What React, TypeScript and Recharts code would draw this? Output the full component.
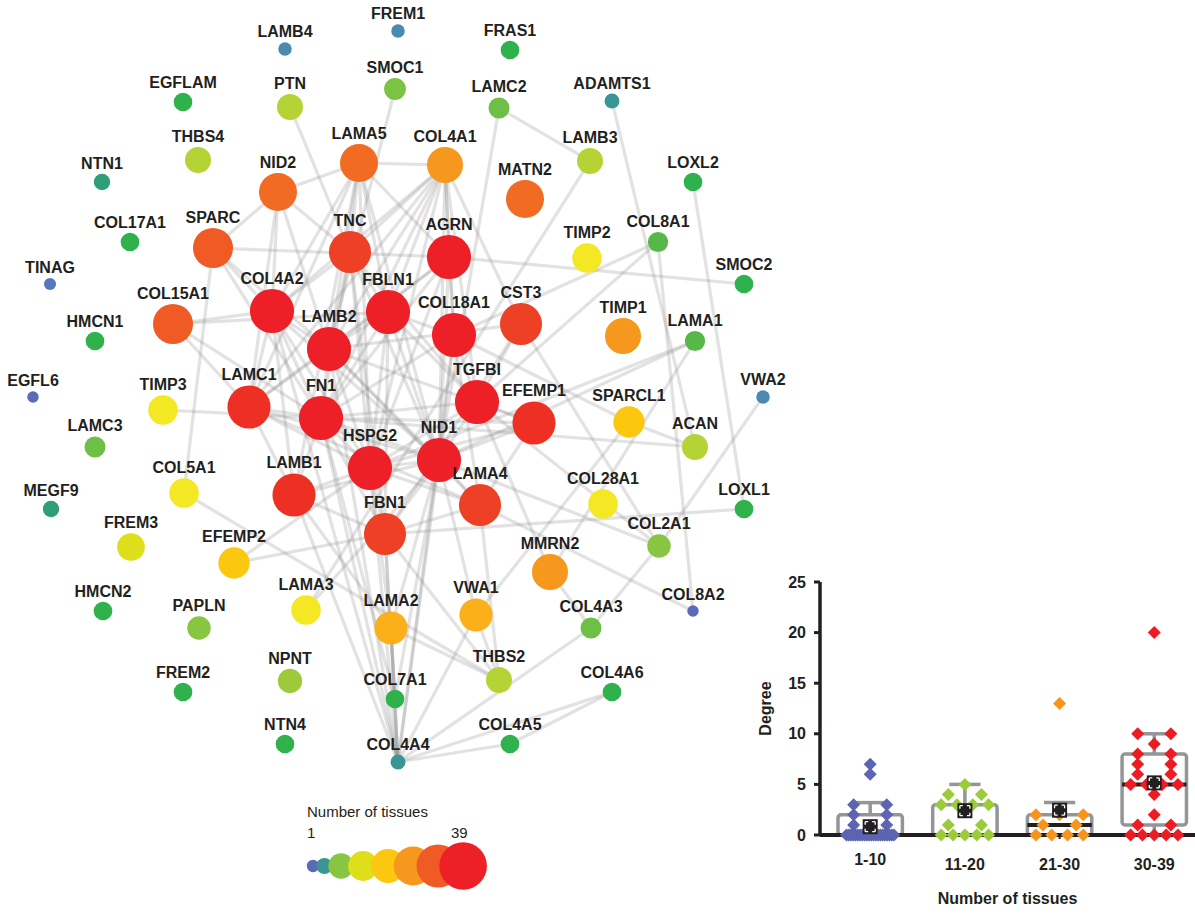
import React from 'react';
import { ScatterChart, Scatter, XAxis, YAxis, ReferenceLine, ReferenceArea } from 'recharts';

const FONT = '"Liberation Sans", Arial, Helvetica, sans-serif';
const INK = '#231f20';

// gene, layout x, layout y, number of tissues
const GENES: [string, number, number, number][] = [
  ['LAMB4', 285, 49, 4], ['FREM1', 398, 31, 4], ['FRAS1', 510, 50, 11], ['EGFLAM', 183, 102, 11],
  ['PTN', 290, 107, 20], ['SMOC1', 395, 89, 15], ['LAMC2', 499, 108, 14], ['ADAMTS1', 612, 101, 6],
  ['THBS4', 198, 160, 20], ['LAMA5', 359, 163, 33], ['COL4A1', 445, 165, 31], ['NID2', 278, 192, 33],
  ['MATN2', 525, 199, 33], ['LAMB3', 590, 161, 20], ['LOXL2', 693, 182, 11], ['NTN1', 102, 182, 8],
  ['COL17A1', 130, 242, 11], ['SPARC', 213, 248, 35], ['TNC', 350, 252, 37], ['AGRN', 449, 257, 39],
  ['TIMP2', 587, 258, 24], ['COL8A1', 658, 242, 13], ['SMOC2', 744, 284, 11], ['TINAG', 50, 284, 2],
  ['COL4A2', 272, 311, 39], ['FBLN1', 388, 312, 39], ['COL15A1', 173, 324, 35], ['COL18A1', 454, 335, 39],
  ['CST3', 521, 324, 37], ['TIMP1', 623, 336, 31], ['LAMB2', 329, 349, 39], ['HMCN1', 95, 341, 11],
  ['LAMA1', 695, 341, 13], ['EGFL6', 33, 397, 1], ['TIMP3', 163, 410, 24], ['LAMC1', 249, 407, 38],
  ['FN1', 321, 418, 39], ['TGFBI', 477, 402, 39], ['EFEMP1', 534, 423, 38], ['SPARCL1', 629, 422, 26],
  ['VWA2', 763, 397, 4], ['ACAN', 695, 447, 20], ['LAMC3', 95, 447, 14], ['HSPG2', 370, 468, 39],
  ['NID1', 439, 460, 39], ['COL5A1', 184, 493, 24], ['LAMB1', 294, 495, 38], ['LAMA4', 480, 505, 37],
  ['COL28A1', 603, 504, 24], ['LOXL1', 744, 509, 11], ['MEGF9', 51, 509, 8], ['FBN1', 385, 534, 37],
  ['FREM3', 131, 547, 22], ['EFEMP2', 234, 563, 26], ['COL2A1', 659, 546, 17], ['MMRN2', 550, 572, 31],
  ['HMCN2', 103, 611, 11], ['COL8A2', 693, 611, 1], ['PAPLN', 199, 628, 17], ['LAMA3', 306, 610, 24],
  ['LAMA2', 391, 628, 28], ['VWA1', 476, 615, 28], ['COL4A3', 591, 628, 14], ['THBS2', 499, 680, 20],
  ['NPNT', 290, 681, 18], ['FREM2', 183, 692, 11], ['COL7A1', 395, 699, 11], ['COL4A6', 612, 692, 11],
  ['NTN4', 285, 744, 11], ['COL4A5', 510, 744, 11], ['COL4A4', 398, 762, 6],
];

const EDGES: [string, string][] = [
  ['PTN', 'TNC'], ['SMOC1', 'LAMB2'], ['LAMC2', 'LAMB3'], ['LAMC2', 'NID1'], ['LAMB3', 'LAMA3'],
  ['ADAMTS1', 'ACAN'], ['LOXL2', 'LOXL1'], ['COL8A1', 'COL8A2'], ['COL8A1', 'COL18A1'], ['COL8A1', 'TGFBI'],
  ['AGRN', 'SMOC2'], ['SPARC', 'AGRN'], ['SPARC', 'COL5A1'], ['TIMP3', 'FN1'], ['COL5A1', 'THBS2'],
  ['EFEMP2', 'FBN1'], ['EFEMP2', 'HSPG2'], ['FBN1', 'LOXL1'], ['LAMA3', 'NID1'],
  ['VWA2', 'COL2A1'], ['TGFBI', 'COL2A1'], ['NID1', 'COL2A1'], ['CST3', 'COL2A1'], ['COL2A1', 'COL4A3'],
  ['SPARCL1', 'ACAN'], ['SPARCL1', 'VWA1'], ['SPARCL1', 'COL18A1'], ['ACAN', 'FN1'],
  ['LAMA1', 'HSPG2'], ['LAMA1', 'NID1'], ['LAMA1', 'MMRN2'],
  ['MMRN2', 'COL4A3'], ['MMRN2', 'TGFBI'], ['LAMA4', 'COL8A2'], ['LAMA4', 'THBS2'], ['FBN1', 'THBS2'],
  ['VWA1', 'THBS2'], ['LAMA2', 'THBS2'],
  ['COL4A4', 'COL4A3'], ['COL4A4', 'COL4A5'], ['COL4A4', 'COL4A6'], ['COL4A5', 'COL4A6'], ['COL4A4', 'COL7A1'],
  ['COL4A4', 'COL4A2'], ['COL4A4', 'FN1'], ['COL4A4', 'HSPG2'], ['COL4A4', 'NID1'], ['COL4A4', 'FBN1'],
  ['COL4A4', 'COL18A1'], ['COL4A4', 'LAMB2'], ['COL4A4', 'LAMA2'], ['COL4A4', 'VWA1'], ['COL4A4', 'LAMB1'],
  ['COL7A1', 'FBN1'], ['COL7A1', 'NID1'], ['COL7A1', 'LAMA2'], ['COL7A1', 'FN1'],
  ['LAMA5', 'COL4A1'], ['LAMA5', 'NID2'], ['LAMA5', 'TNC'], ['LAMA5', 'LAMB2'], ['LAMA5', 'LAMC1'],
  ['LAMA5', 'NID1'], ['LAMA5', 'AGRN'], ['LAMA5', 'HSPG2'], ['LAMA5', 'LAMB1'], ['LAMA5', 'FBLN1'],
  ['LAMA5', 'COL4A2'],
  ['COL4A1', 'COL4A2'], ['COL4A1', 'NID1'], ['COL4A1', 'HSPG2'], ['COL4A1', 'FN1'], ['COL4A1', 'LAMB2'],
  ['COL4A1', 'TNC'], ['COL4A1', 'COL18A1'], ['COL4A1', 'CST3'], ['COL4A1', 'AGRN'], ['COL4A1', 'FBLN1'],
  ['COL4A1', 'LAMC1'], ['COL4A1', 'TGFBI'],
  ['NID2', 'TNC'], ['NID2', 'COL4A2'], ['NID2', 'LAMB2'], ['NID2', 'LAMC1'], ['NID2', 'SPARC'],
  ['TNC', 'FBLN1'], ['TNC', 'FN1'], ['TNC', 'COL4A2'], ['TNC', 'LAMB2'], ['TNC', 'HSPG2'], ['TNC', 'FBN1'],
  ['TNC', 'NID1'], ['TNC', 'TGFBI'],
  ['AGRN', 'LAMB2'], ['AGRN', 'LAMC1'], ['AGRN', 'NID1'], ['AGRN', 'FN1'], ['AGRN', 'HSPG2'], ['AGRN', 'COL18A1'],
  ['SPARC', 'COL4A2'], ['SPARC', 'LAMB2'], ['SPARC', 'FN1'],
  ['COL15A1', 'COL4A2'], ['COL15A1', 'LAMC1'], ['COL15A1', 'FN1'], ['COL15A1', 'FBLN1'],
  ['COL4A2', 'LAMB2'], ['COL4A2', 'FN1'], ['COL4A2', 'LAMC1'], ['COL4A2', 'LAMB1'], ['COL4A2', 'HSPG2'],
  ['COL4A2', 'NID1'],
  ['FBLN1', 'FN1'], ['FBLN1', 'LAMB2'], ['FBLN1', 'COL18A1'], ['FBLN1', 'FBN1'], ['FBLN1', 'NID1'],
  ['FBLN1', 'HSPG2'], ['FBLN1', 'TGFBI'],
  ['COL18A1', 'NID1'], ['COL18A1', 'TGFBI'], ['COL18A1', 'LAMA4'], ['COL18A1', 'FN1'],
  ['CST3', 'TGFBI'], ['CST3', 'LAMB2'], ['CST3', 'FBN1'],
  ['LAMB2', 'LAMC1'], ['LAMB2', 'FN1'], ['LAMB2', 'NID1'], ['LAMB2', 'HSPG2'], ['LAMB2', 'LAMA4'],
  ['LAMB2', 'EFEMP1'],
  ['LAMC1', 'FN1'], ['LAMC1', 'LAMB1'], ['LAMC1', 'NID1'], ['LAMC1', 'HSPG2'], ['LAMC1', 'LAMA4'],
  ['FN1', 'HSPG2'], ['FN1', 'NID1'], ['FN1', 'LAMB1'], ['FN1', 'FBN1'], ['FN1', 'TGFBI'], ['FN1', 'EFEMP1'],
  ['TGFBI', 'NID1'], ['TGFBI', 'EFEMP1'], ['TGFBI', 'HSPG2'],
  ['EFEMP1', 'NID1'], ['EFEMP1', 'HSPG2'], ['EFEMP1', 'LAMA4'],
  ['HSPG2', 'NID1'], ['HSPG2', 'LAMB1'], ['HSPG2', 'FBN1'], ['HSPG2', 'LAMA4'], ['HSPG2', 'LAMA2'],
  ['NID1', 'LAMB1'], ['NID1', 'LAMA4'], ['NID1', 'FBN1'], ['NID1', 'LAMA2'], ['NID1', 'VWA1'],
  ['LAMB1', 'LAMA2'], ['LAMB1', 'FBN1'], ['LAMA4', 'FBN1'],
];

const LEGEND_TISSUES = [1, 6, 17, 22, 26, 31, 35, 39];

// degree of each gene, grouped by number of tissues
const GROUPS = ['1-10', '11-20', '21-30', '30-39'];
const DEGREE_1_10 = [7, 6, 3, 3, 2, 2, 1, 1, 0, 0, 0, 0, 0, 0, 0, 0, 0, 0, 0, 0, 0, 0, 0, 0, 0, 0, 0, 0, 0, 0];
const DEGREE_11_20 = [5, 4, 4, 3, 3, 3, 3, 1, 1, 0, 0, 0, 0, 0];
const DEGREE_21_30 = [13, 2, 2, 2, 1, 1, 0, 0, 0, 0];
const DEGREE_30_39 = [20, 10, 10, 9, 8, 8, 7, 7, 6, 6, 5, 5, 5, 5, 4, 2, 1, 1, 0, 0, 0, 0, 0];
const BOX_Q1 = [0, 0, 0, 1];
const BOX_Q3 = [2, 3, 2, 8];
const MEDIAN = [0, 0, 1, 5];
const WHISKER_LOW = [0, 0, 0, 0];
const WHISKER_HIGH = [3.2, 5, 3.2, 10];
const MEAN = [0.82, 2.4, 2.45, 5.15];

const GROUP_COLORS = ['#5d64b0', '#9bcb3b', '#f7941d', '#ec1c24'];
const BOX_GREY = '#939598';

const COLOR_STOPS: [number, string][] = [
  [1, '#5b6ab8'], [2, '#5577c2'], [4, '#4a8ab0'], [6, '#3a9595'], [8, '#2e9e78'], [11, '#2fb14b'],
  [13, '#55b848'], [14, '#6dbf45'], [15, '#7cc243'], [17, '#88c540'], [18, '#9ec93b'], [20, '#b5d334'],
  [22, '#dede1a'], [24, '#f4e724'], [26, '#fcc70f'], [28, '#fbb01b'], [31, '#f7981e'], [33, '#f26b22'],
  [35, '#f05a24'], [37, '#ee4024'], [38, '#ee3024'], [39, '#ee2027'],
];

function hexRgb(h: string) {
  return [1, 3, 5].map((i) => parseInt(h.slice(i, i + 2), 16));
}

function tissueColor(t: number) {
  for (let i = 1; i < COLOR_STOPS.length; i++) {
    const [t0, c0] = COLOR_STOPS[i - 1];
    const [t1, c1] = COLOR_STOPS[i];
    if (t <= t1) {
      const f = Math.max(0, (t - t0) / (t1 - t0));
      const a = hexRgb(c0);
      const b = hexRgb(c1);
      return `rgb(${a.map((v, k) => Math.round(v + (b[k] - v) * f)).join(',')})`;
    }
  }
  return COLOR_STOPS[COLOR_STOPS.length - 1][1];
}

const tissueRadius = (t: number) => 5.4 + 0.33 * t + 0.0025 * t * t;
const legendRadius = (t: number) => tissueRadius(t) * 1.08;

const nodeData = GENES.map(([name, x, y, tissues]) => ({ name, x, y, tissues }));
const nodePos: Record<string, { x: number; y: number }> = {};
nodeData.forEach((n) => (nodePos[n.name] = { x: n.x, y: n.y }));

const legendData = (() => {
  let x = 313;
  return LEGEND_TISSUES.map((t, i) => {
    if (i > 0) x += Math.min(25, 0.8 * (legendRadius(LEGEND_TISSUES[i - 1]) + legendRadius(t)));
    return { x, y: 866, tissues: t };
  });
})();

// spread equal values sideways so they don't sit on each other
function spread(values: number[]) {
  const counts: Record<number, number> = {};
  values.forEach((v) => (counts[v] = (counts[v] || 0) + 1));
  const seen: Record<number, number> = {};
  return values.map((v) => {
    const k = counts[v];
    const i = (seen[v] = (seen[v] ?? -1) + 1);
    if (k === 1) return 0;
    const span = Math.min(0.5, 0.35 * (k - 1));
    return -span / 2 + (span * i) / (k - 1);
  });
}

const groupPoints = [DEGREE_1_10, DEGREE_11_20, DEGREE_21_30, DEGREE_30_39].map((vals, g) => {
  const off = spread(vals);
  return vals.map((v, i) => ({ x: g + 1 + off[i], y: v }));
});
const meanData = MEAN.map((m, i) => ({ x: i + 1, y: m }));

const GeneCircle = (props: any) => {
  const { cx, cy, payload } = props;
  return <circle cx={cx} cy={cy} r={tissueRadius(payload.tissues)} fill={tissueColor(payload.tissues)} />;
};

const GeneLabel = (props: any) => {
  const { cx, cy, payload } = props;
  const r = tissueRadius(payload.tissues);
  return (
    <text x={cx} y={cy - r - 5} textAnchor="middle" fontFamily={FONT} fontSize={16} fontWeight="bold" fill={INK}>
      {payload.name}
    </text>
  );
};

const LegendKey = (props: any) => {
  const { cx, cy, payload } = props;
  return <circle cx={cx} cy={cy} r={legendRadius(payload.tissues)} fill={tissueColor(payload.tissues)} />;
};

const Diamond = (color: string) => (props: any) => {
  const { cx, cy } = props;
  const d = 6.5;
  return <polygon points={`${cx},${cy - d} ${cx + d},${cy} ${cx},${cy + d} ${cx - d},${cy}`} fill={color} />;
};

const MeanMark = (props: any) => {
  const { cx, cy } = props;
  return (
    <g>
      <rect x={cx - 7.5} y={cy - 7.5} width={15} height={15} fill={INK} />
      <rect x={cx - 5} y={cy - 5} width={10} height={10} fill="none" stroke="#fff" strokeWidth={1.3} strokeDasharray="3 4 3 0" />
      <polygon points={`${cx},${cy - 4.5} ${cx + 4.5},${cy} ${cx},${cy + 4.5} ${cx - 4.5},${cy}`} fill={INK} />
    </g>
  );
};

const GroupTick = (props: any) => {
  const { x, y, payload, index } = props;
  return (
    <text x={x} y={y} dy={index === 0 ? 24 : 29} textAnchor="middle" fontFamily={FONT} fontSize={16} fontWeight="bold" fill={INK}>
      {GROUPS[payload.value - 1]}
    </text>
  );
};

const DegreeLabel = (props: any) => {
  const vb = props.viewBox || { x: 20, y: 22, width: 50, height: 253 };
  const x = vb.x - 5;
  const y = vb.y + vb.height / 2;
  return (
    <text x={x} y={y} transform={`rotate(-90 ${x} ${y})`} textAnchor="middle" dominantBaseline="central" fontFamily={FONT} fontSize={16} fontWeight="bold" fill={INK}>
      Degree
    </text>
  );
};

function NetworkChart() {
  return (
    <ScatterChart width={800} height={915} margin={{ top: 0, right: 0, bottom: 0, left: 0 }}>
      <XAxis type="number" dataKey="x" domain={[0, 800]} hide />
      <YAxis type="number" dataKey="y" domain={[0, 915]} reversed hide />
      {EDGES.map(([a, b]) => (
        <ReferenceLine
          key={`${a}-${b}`}
          segment={[nodePos[a], nodePos[b]]}
          stroke="#8c8c8c"
          strokeOpacity={0.25}
          strokeWidth={3.2}
          ifOverflow="visible"
        />
      ))}
      <Scatter data={nodeData} shape={GeneCircle} isAnimationActive={false} />
      <Scatter data={nodeData} shape={GeneLabel} isAnimationActive={false} />
      <Scatter data={legendData} shape={LegendKey} isAnimationActive={false} />
    </ScatterChart>
  );
}

function DegreeChart() {
  return (
    <ScatterChart width={445} height={355} margin={{ top: 22, right: 0, bottom: 10, left: 20 }}>
      <XAxis
        type="number"
        dataKey="x"
        domain={[0.47, 4.43]}
        ticks={[1, 2, 3, 4]}
        allowDataOverflow
        height={70}
        axisLine={{ stroke: INK, strokeWidth: 4 }}
        tickLine={{ stroke: INK, strokeWidth: 2 }}
        tickSize={4}
        tick={GroupTick}
        label={{ value: 'Number of tissues', position: 'insideBottom', offset: 1, fontSize: 16, fontWeight: 'bold', fill: INK, fontFamily: FONT }}
      />
      <YAxis
        type="number"
        dataKey="y"
        domain={[0, 25]}
        ticks={[0, 5, 10, 15, 20, 25]}
        width={50}
        axisLine={{ stroke: INK, strokeWidth: 3.5 }}
        tickLine={{ stroke: INK, strokeWidth: 3 }}
        tickSize={6}
        tickMargin={8}
        tick={{ fontSize: 16, fontWeight: 'bold', fill: INK, fontFamily: FONT }}
        label={DegreeLabel}
      />
      {GROUPS.map((g, i) => (
        <ReferenceArea
          key={`box-${g}`}
          x1={i + 1 - 0.34}
          x2={i + 1 + 0.34}
          y1={BOX_Q1[i]}
          y2={BOX_Q3[i]}
          fill="#ffffff"
          fillOpacity={0}
          stroke={BOX_GREY}
          strokeWidth={3.5}
          radius={3}
        />
      ))}
      {GROUPS.map((g, i) => (
        <ReferenceLine key={`wh-${g}`} segment={[{ x: i + 1, y: BOX_Q3[i] }, { x: i + 1, y: WHISKER_HIGH[i] }]} stroke={BOX_GREY} strokeWidth={3.5} />
      ))}
      {GROUPS.map((g, i) => (
        <ReferenceLine key={`cap-${g}`} segment={[{ x: i + 1 - 0.165, y: WHISKER_HIGH[i] }, { x: i + 1 + 0.165, y: WHISKER_HIGH[i] }]} stroke={BOX_GREY} strokeWidth={3.5} />
      ))}
      {GROUPS.map((g, i) =>
        BOX_Q1[i] > WHISKER_LOW[i] ? (
          <ReferenceLine key={`wl-${g}`} segment={[{ x: i + 1, y: WHISKER_LOW[i] }, { x: i + 1, y: BOX_Q1[i] }]} stroke={BOX_GREY} strokeWidth={3.5} />
        ) : null
      )}
      {GROUPS.map((g, i) => (
        <Scatter key={`pts-${g}`} data={groupPoints[i]} shape={Diamond(GROUP_COLORS[i])} isAnimationActive={false} />
      ))}
      {GROUPS.map((g, i) => (
        <ReferenceLine key={`med-${g}`} segment={[{ x: i + 1 - 0.34, y: MEDIAN[i] }, { x: i + 1 + 0.34, y: MEDIAN[i] }]} stroke={INK} strokeWidth={4} />
      ))}
      <Scatter data={meanData} shape={MeanMark} isAnimationActive={false} />
    </ScatterChart>
  );
}

const legendText: React.CSSProperties = {
  position: 'absolute',
  fontFamily: FONT,
  fontSize: 15,
  lineHeight: '15px',
  color: INK,
  whiteSpace: 'nowrap',
};

export default function App() {
  return (
    <div style={{ position: 'absolute', left: 0, top: 0, width: 1195, height: 915, background: '#fff', fontFamily: FONT }}>
      <div style={{ position: 'absolute', left: 0, top: 0 }}>
        <NetworkChart />
      </div>
      <div style={{ ...legendText, left: 307, top: 804 }}>Number of tissues</div>
      <div style={{ ...legendText, left: 307, top: 825 }}>1</div>
      <div style={{ ...legendText, left: 451, top: 825 }}>39</div>
      <div style={{ position: 'absolute', left: 750, top: 560 }}>
        <DegreeChart />
      </div>
    </div>
  );
}
